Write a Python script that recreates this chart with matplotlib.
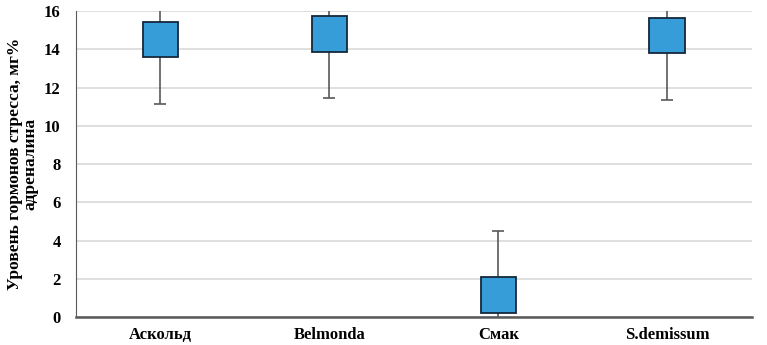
import numpy as np
import matplotlib.pyplot as plt

# values (high, low, box top, box bottom)
varieties = ['Аскольд', 'Belmonda', 'Смак', 'S.demissum']
high = [17.0, 17.0, 4.5, 17.0]
low = [11.15, 11.43, -0.5, 11.35]
box_top = [15.44, 15.74, 2.07, 15.63]
box_bottom = [13.61, 13.87, 0.22, 13.79]
yticks = [0, 2, 4, 6, 8, 10, 12, 14, 16]

plt.rcParams['font.family'] = ['Liberation Serif', 'DejaVu Serif']
plt.rcParams['font.weight'] = 'bold'

fig = plt.figure(figsize=(7.67, 3.45), dpi=100)
ax = fig.add_axes([0.099, 0.081, 0.881, 0.887])

x = np.arange(len(varieties))
ax.vlines(x, low, high, color='#595959', lw=1.2, zorder=2)
cap = 0.035
ax.hlines(low, x - cap, x + cap, color='#595959', lw=1.2, zorder=2)
ax.hlines([h for h in high if h < 16], x[2] - cap, x[2] + cap, color='#595959', lw=1.2, zorder=2)
ax.bar(x, np.array(box_top) - np.array(box_bottom), bottom=box_bottom, width=0.21,
       color='#379dd8', edgecolor='#14283a', lw=1.3, zorder=3)

ax.set_xlim(-0.5, len(varieties) - 0.5)
ax.set_ylim(0, 16)
ax.set_yticks(yticks)
ax.set_xticks(x)
ax.set_xticklabels(varieties, fontsize=12, fontweight='bold')
ax.tick_params(axis='y', labelsize=12, length=0, pad=11)
ax.tick_params(axis='x', length=0, pad=7)
ax.yaxis.grid(True, color='#d9d9d9', lw=1.2)
ax.set_axisbelow(True)
for s in ['top', 'right']:
    ax.spines[s].set_visible(False)
ax.spines['left'].set_color('#595959')
ax.spines['bottom'].set_color('#595959')
ax.spines['bottom'].set_linewidth(1.8)
ax.set_ylabel('Уровень гормонов стресса, мг%\nадреналина', fontsize=12.5,
              fontweight='bold', linespacing=0.95, labelpad=4)

fig.savefig('out.png', dpi=100)
